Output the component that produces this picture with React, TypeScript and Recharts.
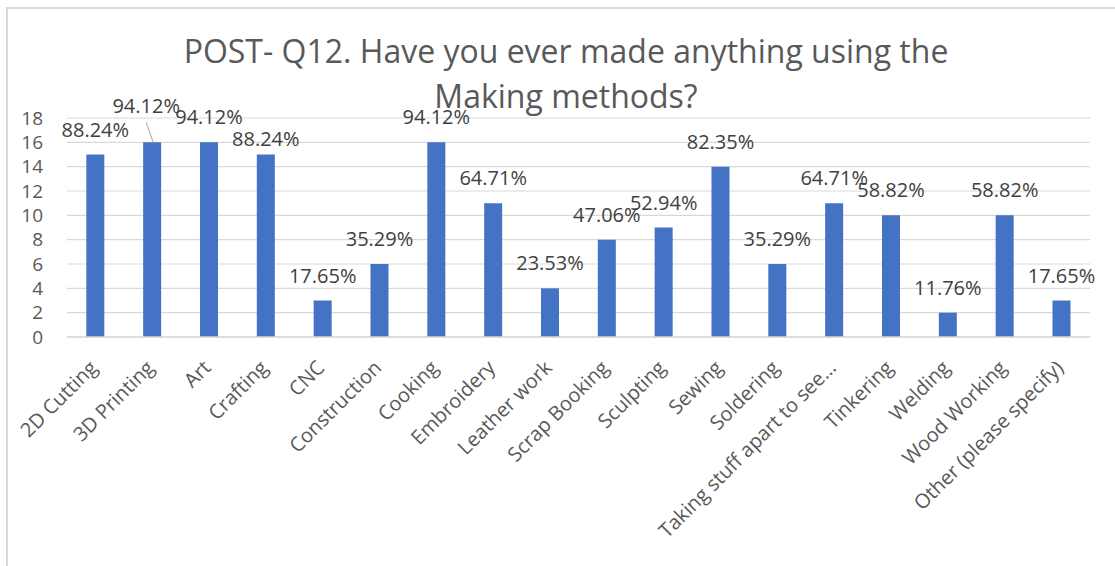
import { Bar, BarChart, CartesianGrid, LabelList, XAxis, YAxis } from 'recharts';

const categories = [
  '2D Cutting',
  '3D Printing',
  'Art',
  'Crafting',
  'CNC',
  'Construction',
  'Cooking',
  'Embroidery',
  'Leather work',
  'Scrap Booking',
  'Sculpting',
  'Sewing',
  'Soldering',
  'Taking stuff apart to see…',
  'Tinkering',
  'Welding',
  'Wood Working',
  'Other (please specify)',
];

const counts = [15, 16, 16, 15, 3, 6, 16, 11, 4, 8, 9, 14, 6, 11, 10, 2, 10, 3];

const percents = [
  '88.24%', '94.12%', '94.12%', '88.24%', '17.65%', '35.29%', '94.12%', '64.71%', '23.53%',
  '47.06%', '52.94%', '82.35%', '35.29%', '64.71%', '58.82%', '11.76%', '58.82%', '17.65%',
];

const yTicks = [0, 2, 4, 6, 8, 10, 12, 14, 16, 18];

const data = categories.map((name, i) => ({ name, count: counts[i], pct: percents[i] }));

const FONT = '"Open Sans", "Noto Sans", sans-serif';

function XTick({ x, y, payload }: any) {
  return (
    <g transform={`translate(${x + 3},${y + 24})`}>
      <text
        transform="rotate(-45)"
        textAnchor="end"
        fontFamily={FONT}
        fontSize={20}
        fill="#595959"
      >
        {payload.value}
      </text>
    </g>
  );
}

function PctLabel(props: any) {
  const { x, y, width, index } = props;
  const cx = x + width / 2;
  const label = data[index].pct;
  // 3D Printing label was dragged up-left in the original, with a leader line
  if (index === 1) {
    return (
      <g>
        <line x1={cx - 6} y1={y - 20} x2={cx + 1} y2={y} stroke="#A6A6A6" strokeWidth={1} />
        <text x={cx - 6} y={y - 29} textAnchor="middle" fontFamily={FONT} fontSize={20} fill="#404040">
          {label}
        </text>
      </g>
    );
  }
  // Crafting label sits a bit lower in the original
  const dy = index === 3 ? 9 : 18;
  return (
    <text x={cx} y={y - dy} textAnchor="middle" fontFamily={FONT} fontSize={20} fill="#404040">
      {label}
    </text>
  );
}

export default function App() {
  return (
    <div
      style={{
        position: 'absolute',
        left: 0,
        top: 0,
        width: 1115,
        height: 566,
        overflow: 'hidden',
        background: '#fff',
      }}
    >
      <div
        style={{
          position: 'absolute',
          left: 6,
          top: 7,
          width: 1200,
          height: 700,
          border: '2px solid #D9D9D9',
        }}
      />
      <div style={{ position: 'absolute', left: 0, top: 0 }}>
        <BarChart
          width={1115}
          height={566}
          data={data}
          margin={{ top: 118, right: 25, bottom: 8, left: 7 }}
          barCategoryGap="34%"
        >
          <CartesianGrid vertical={false} stroke="#D9D9D9" strokeWidth={1.2} />
          <XAxis
            dataKey="name"
            interval={0}
            height={221}
            tick={<XTick />}
            tickLine={false}
            axisLine={{ stroke: '#D9D9D9', strokeWidth: 1.5 }}
          />
          <YAxis
            width={60}
            domain={[0, 18]}
            ticks={yTicks}
            interval={0}
            tickLine={false}
            axisLine={false}
            tickMargin={18}
            tick={{ fontFamily: FONT, fontSize: 19, fill: '#595959' }}
          />
          <Bar dataKey="count" fill="#4472C4" isAnimationActive={false}>
            <LabelList dataKey="pct" content={<PctLabel />} />
          </Bar>
        </BarChart>
      </div>
      <div
        style={{
          position: 'absolute',
          left: 66,
          top: 28,
          width: 1000,
          textAlign: 'center',
          fontFamily: FONT,
          fontSize: 32,
          lineHeight: '45px',
          color: '#595959',
        }}
      >
        POST- Q12. Have you ever made anything using the
        <br />
        Making methods?
      </div>
    </div>
  );
}
